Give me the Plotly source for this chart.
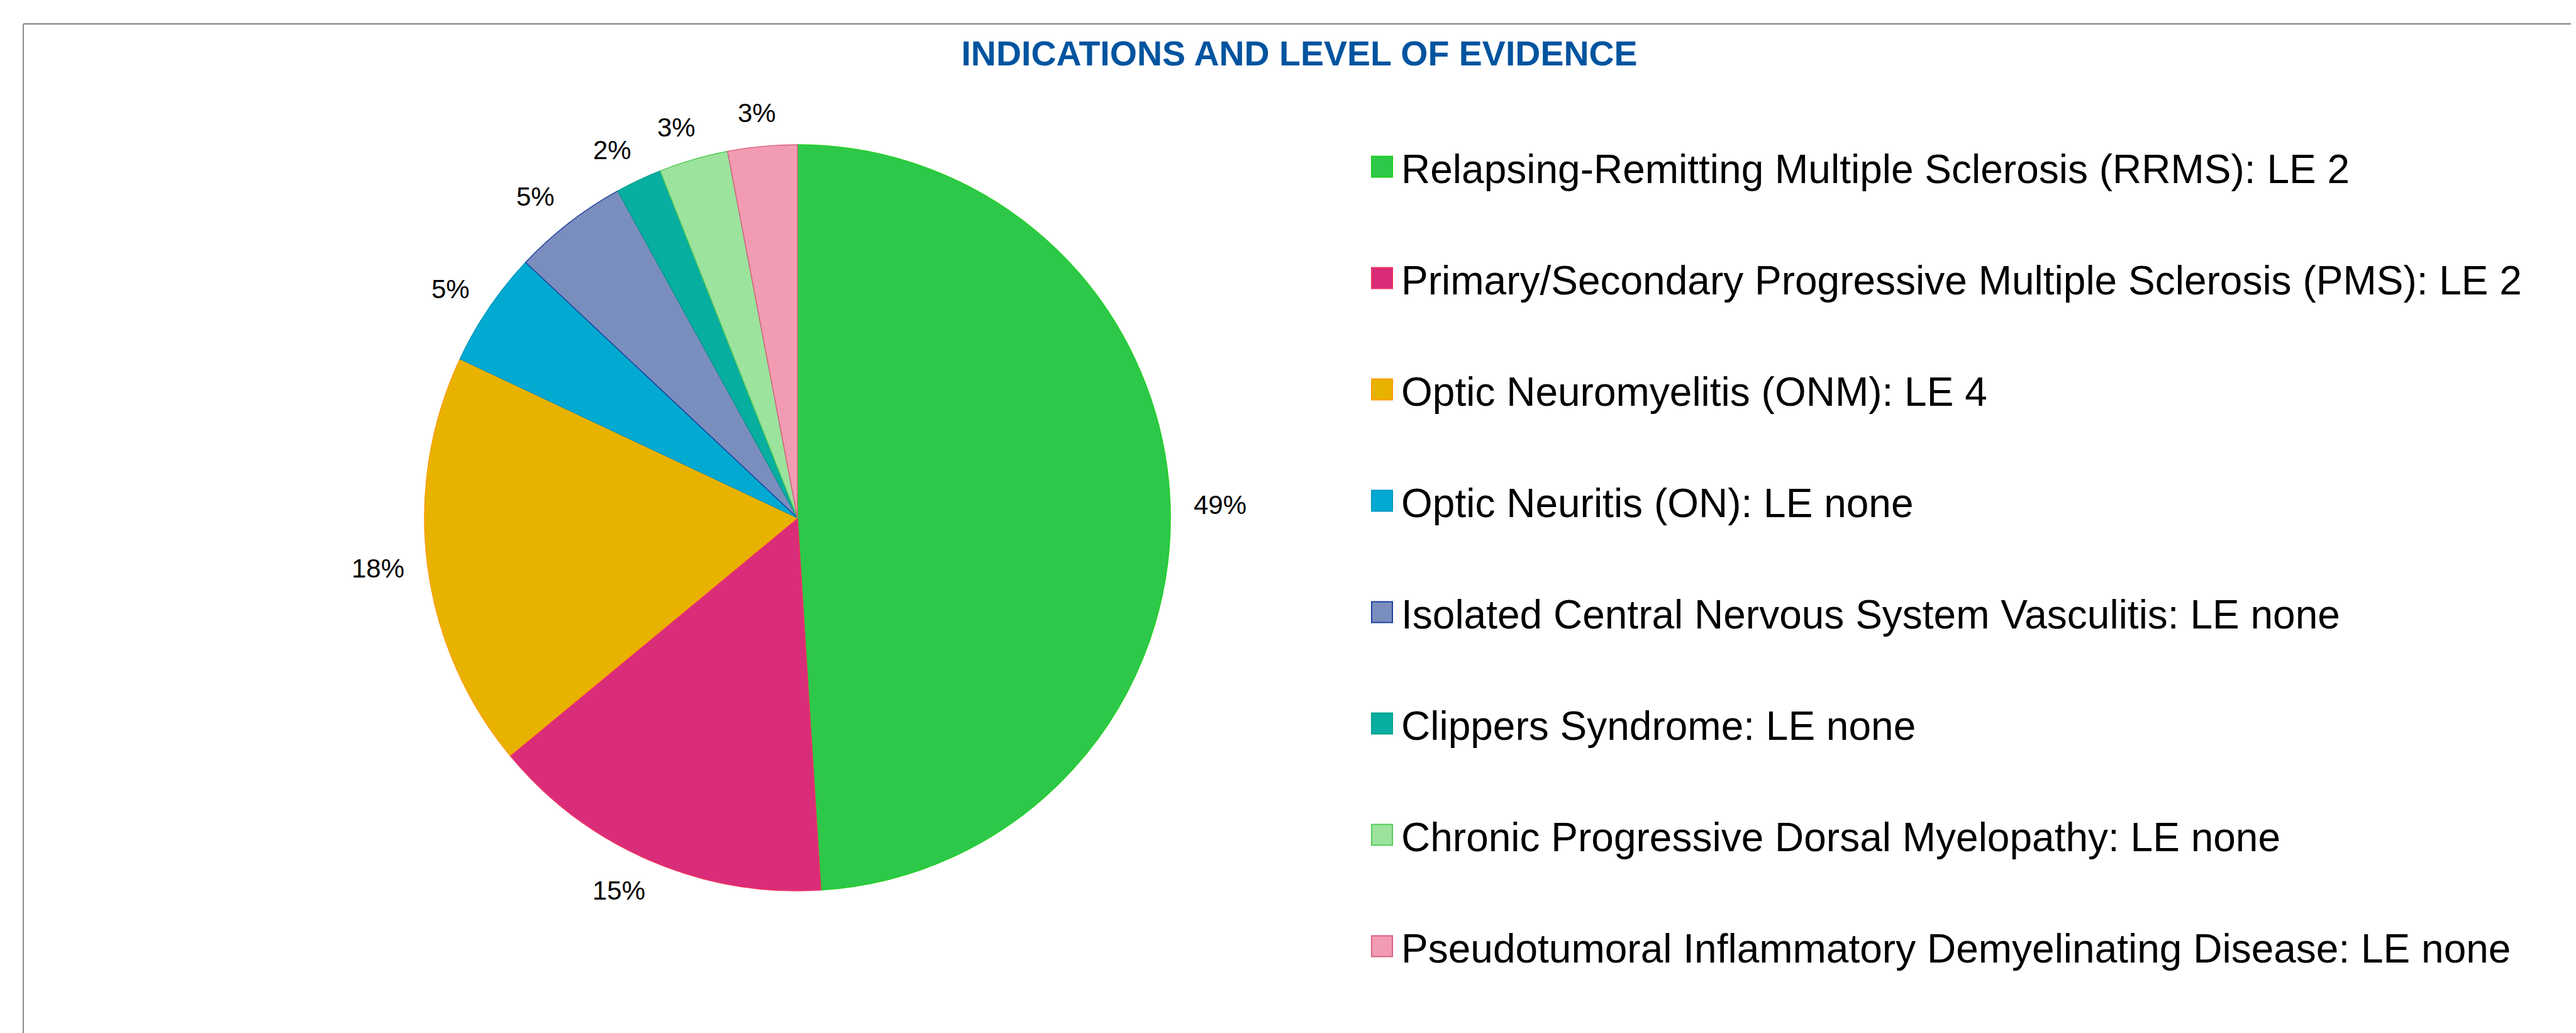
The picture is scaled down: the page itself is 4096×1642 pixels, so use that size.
import math
import plotly.graph_objects as go

# ---- data ----
categories = [
    "Relapsing-Remitting Multiple Sclerosis (RRMS): LE 2",
    "Primary/Secondary Progressive Multiple Sclerosis (PMS): LE 2",
    "Optic Neuromyelitis (ONM): LE 4",
    "Optic Neuritis (ON): LE none",
    "Isolated Central Nervous System Vasculitis: LE none",
    "Clippers Syndrome: LE none",
    "Chronic Progressive Dorsal Myelopathy: LE none",
    "Pseudotumoral Inflammatory Demyelinating Disease: LE none",
]
values = [49, 15, 18, 5, 5, 2, 3, 3]
title_text = "INDICATIONS AND LEVEL OF EVIDENCE"

# ---- styles ----
fill_colors = ["#2DC84A", "#D92D7A", "#E8B200", "#02AAD1", "#7A8EBE", "#08AE9F", "#9CE39E", "#F29CB4"]
edge_colors = ["#1FCF1F", "#F03060", "#FF9A00", "#0098C0", "#1F3F9F", "#05A090", "#55CC55", "#D9607F"]

W, H = 4096, 1642
FONT = "Arial, 'Liberation Sans', sans-serif"
LABEL_SIZE = 42
LEGEND_SIZE = 64


def px(x):
    return x / W


def py(y):
    return 1 - y / H


cx, cy, r = 1260, 815, 593

fig = go.Figure()
fig.add_trace(go.Pie(
    labels=categories,
    values=values,
    sort=False,
    direction="clockwise",
    rotation=0,
    marker=dict(colors=fill_colors, line=dict(color=edge_colors, width=1.5)),
    textinfo="none",
    domain=dict(x=[px(cx - r), px(cx + r)], y=[py(cy + r), py(cy - r)]),
    showlegend=False,
    hoverinfo="label+percent",
))

shapes = []
annotations = []

# percentage labels placed just outside each slice (Excel-like, no leader lines)
total = float(sum(values))
cum = 0.0
gap = 37
for v in values:
    frac = v / total
    mid = (cum + frac / 2) * 2 * math.pi
    cum += frac
    s, c = math.sin(mid), math.cos(mid)
    txt = f"{round(frac * 100):d}%"
    hw = (0.556 * (len(txt) - 1) + 0.889) * LABEL_SIZE / 2
    hh = 16
    lx = cx + (r + gap) * s + math.copysign(hw * min(1.0, 2 * abs(s)), s)
    ly = cy - (r + gap) * c - hh * c
    annotations.append(dict(xref="paper", yref="paper", x=px(lx), y=py(ly),
                            xanchor="center", yanchor="middle", showarrow=False,
                            text=txt, font=dict(family=FONT, size=LABEL_SIZE, color="#000000")))

# frame lines (top and left)
shapes.append(dict(type="line", xref="paper", yref="paper",
                   x0=px(29), x1=1, y0=py(30), y1=py(30),
                   line=dict(color="#808080", width=2)))
shapes.append(dict(type="line", xref="paper", yref="paper",
                   x0=px(29), x1=px(29), y0=py(30), y1=0,
                   line=dict(color="#8C8C8C", width=2)))

# manual legend
leg_x0, leg_x1 = 2173, 2206
leg_text_x = 2218
row0, row_gap, half = 257, 177, 16.5
for i, name in enumerate(categories):
    yc = row0 + row_gap * i
    shapes.append(dict(type="rect", xref="paper", yref="paper",
                       x0=px(leg_x0), x1=px(leg_x1), y0=py(yc + half), y1=py(yc - half),
                       fillcolor=fill_colors[i], line=dict(color=edge_colors[i], width=2)))
    annotations.append(dict(xref="paper", yref="paper", x=px(leg_text_x), y=py(yc + 4),
                            xanchor="left", yanchor="middle", showarrow=False,
                            text=name, font=dict(family=FONT, size=LEGEND_SIZE, color="#000000")))

fig.update_layout(
    width=W, height=H,
    autosize=False,
    margin=dict(l=0, r=0, t=0, b=0),
    paper_bgcolor="#FFFFFF",
    plot_bgcolor="#FFFFFF",
    title=dict(text="<b>" + title_text + "</b>", x=px(2058), xanchor="center",
               y=py(77), yanchor="middle",
               font=dict(family=FONT, size=55.5, color="#00549F")),
    shapes=shapes,
    annotations=annotations,
)

fig.write_html("out.html")
